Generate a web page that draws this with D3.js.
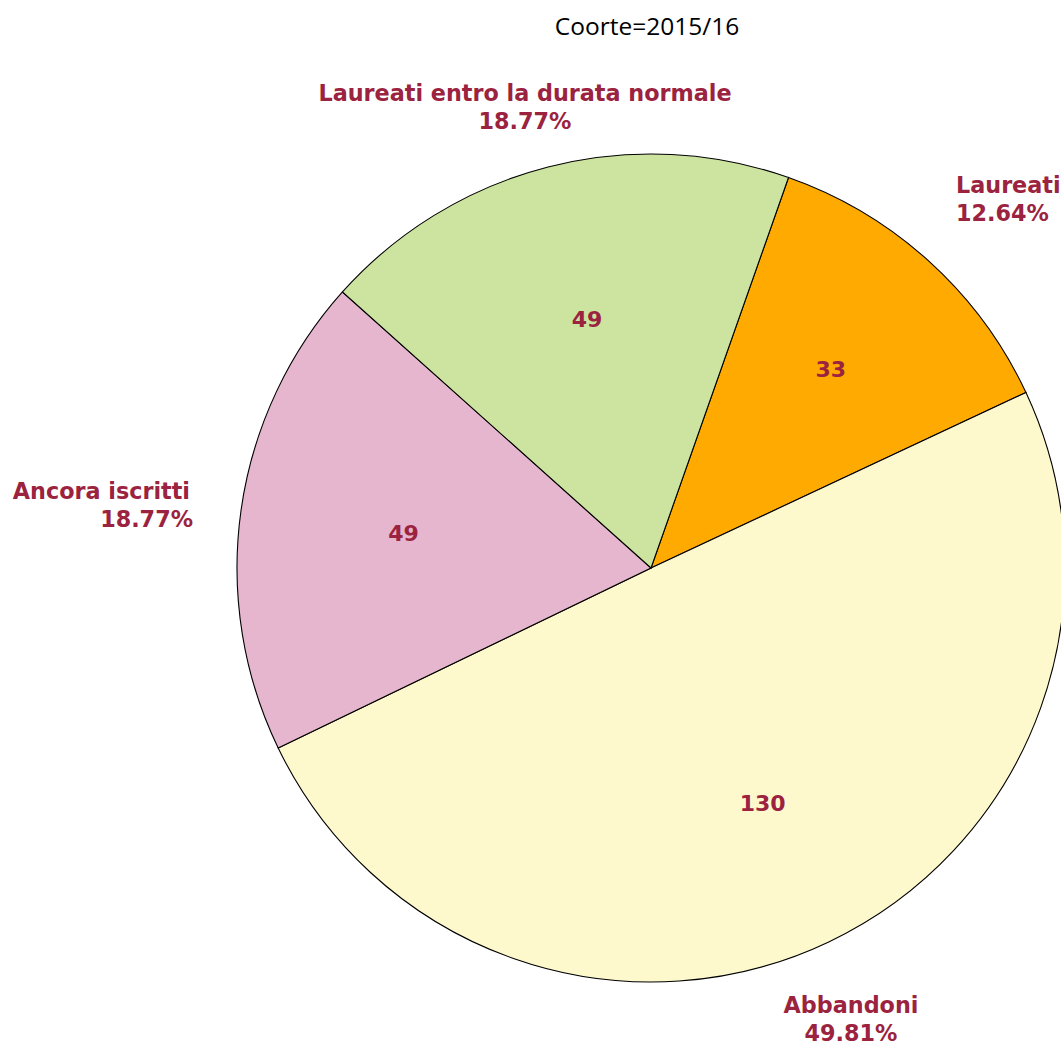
<!DOCTYPE html>
<html>
<head>
<meta charset="utf-8">
<script src="https://cdn.jsdelivr.net/npm/d3@7"></script>
<style>
  body { margin: 0; background: #fff; }
  svg { display: block; }
</style>
</head>
<body>
<div id="chart"></div>
<script>
// Data
var categories = ["Laureati", "Abbandoni", "Ancora iscritti", "Laureati entro la durata normale"];
var counts = [33, 130, 49, 49];
var colors = ["#ffaa00", "#fef9cd", "#e5b6cd", "#cde4a0"];
var title = "Coorte=2015/16";

var width = 1061, height = 1050;
var cx = 651, cy = 568, radius = 414;
var textColor = "#9b2340";

// where the outer labels sit
var outerLayout = [
    { anchor: "start",  x: 956, y: 193 },
    { anchor: "middle", x: 851, y: 1013 },
    { anchor: "end",    x: 190, y: 499 },
    { anchor: "middle", x: 525, y: 101 }
];
// radius of the count labels inside each slice
var innerR = [268, 260, 250, 257];

var svg = d3.select("#chart")
    .append("svg")
    .attr("width", width)
    .attr("height", height);

svg.append("text")
    .attr("x", 647)
    .attr("y", 35)
    .attr("text-anchor", "middle")
    .style("font-family", "'Open Sans', sans-serif")
    .style("font-size", "24.5px")
    .attr("fill", "#000")
    .text(title);

var total = d3.sum(counts);
var startAngle = 19.4 * Math.PI / 180;

var pie = d3.pie()
    .sort(null)
    .startAngle(startAngle)
    .endAngle(startAngle + 2 * Math.PI);

var arcs = pie(counts);

var arc = d3.arc()
    .innerRadius(0)
    .outerRadius(radius);

var g = svg.append("g")
    .attr("transform", "translate(" + cx + "," + cy + ")");

g.selectAll("path")
    .data(arcs)
    .join("path")
    .attr("d", arc)
    .attr("fill", function(d, i) { return colors[i]; })
    .attr("stroke", "#000")
    .attr("stroke-width", 1.1);

// counts inside the slices
g.selectAll("text.inner")
    .data(arcs)
    .join("text")
    .attr("class", "inner")
    .attr("transform", function(d, i) {
        var a = d3.arc().innerRadius(innerR[i]).outerRadius(innerR[i]);
        return "translate(" + a.centroid(d) + ")";
    })
    .attr("dy", "0.36em")
    .attr("text-anchor", "middle")
    .style("font-family", "'DejaVu Sans', Verdana, sans-serif")
    .style("font-weight", "bold")
    .style("font-size", "22px")
    .attr("fill", textColor)
    .text(function(d) { return d.data; });

// category name + percentage outside
var outer = svg.selectAll("text.outer")
    .data(arcs)
    .join("text")
    .attr("class", "outer")
    .attr("text-anchor", function(d, i) { return outerLayout[i].anchor; })
    .style("font-family", "'DejaVu Sans', Verdana, sans-serif")
    .style("font-weight", "bold")
    .style("font-size", "22.3px")
    .attr("fill", textColor);

outer.append("tspan")
    .attr("x", function(d, i) { return outerLayout[i].x; })
    .attr("y", function(d, i) { return outerLayout[i].y; })
    .text(function(d, i) { return categories[i]; });

outer.append("tspan")
    .attr("x", function(d, i) { return outerLayout[i].x + (outerLayout[i].anchor === "end" ? 3 : 0); })
    .attr("y", function(d, i) { return outerLayout[i].y + 28; })
    .text(function(d) { return (d.data / total * 100).toFixed(2) + "%"; });
</script>
</body>
</html>
